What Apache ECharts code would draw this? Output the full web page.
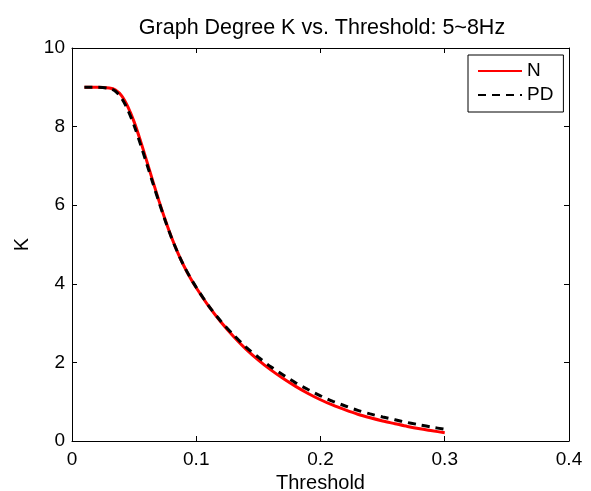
<!DOCTYPE html>
<html>
<head>
<meta charset="utf-8">
<script src="https://cdn.jsdelivr.net/npm/echarts@6/dist/echarts.min.js"></script>
<style>
  html, body { margin: 0; padding: 0; background: #fff; }
  #chart { width: 591px; height: 491px; }
</style>
</head>
<body>
<div id="chart"></div>
<script>
// threshold values (x)
var thresholds = [0.01, 0.02, 0.03, 0.035, 0.04, 0.045, 0.05, 0.055, 0.06, 0.065, 0.07, 0.075, 0.08, 0.085,
  0.09, 0.095, 0.1, 0.11, 0.12, 0.13, 0.14, 0.15, 0.16, 0.17, 0.18, 0.19, 0.2, 0.21, 0.22, 0.23,
  0.24, 0.25, 0.26, 0.27, 0.28, 0.29, 0.3]
var kN = [9, 9, 8.98, 8.93, 8.78, 8.5, 8.12, 7.65, 7.14, 6.62, 6.11, 5.63, 5.19, 4.8,
  4.46, 4.16, 3.9, 3.43, 3.02, 2.66, 2.34, 2.06, 1.81, 1.59, 1.39, 1.21, 1.05, 0.91, 0.79, 0.68,
  0.59, 0.51, 0.44, 0.37, 0.31, 0.26, 0.21]
var kPD = [9, 9, 8.97, 8.9, 8.72, 8.42, 8.03, 7.56, 7.07, 6.57, 6.08, 5.61, 5.18, 4.8,
  4.46, 4.17, 3.91, 3.44, 3.04, 2.7, 2.39, 2.13, 1.89, 1.68, 1.48, 1.31, 1.15, 1.01, 0.89, 0.78,
  0.69, 0.61, 0.54, 0.47, 0.41, 0.35, 0.3]
var xTicks = [0, 0.1, 0.2, 0.3, 0.4]
var yTicks = [0, 2, 4, 6, 8, 10]

function pairs(xs, ys) {
  return xs.map(function (x, i) { return [x, ys[i]] })
}

var font = 'Liberation Sans'
var chart = echarts.init(document.getElementById('chart'))
var tickStyle = { show: true, inside: true, length: 5, lineStyle: { color: '#000', width: 1 } }
var lineStyle = { show: true, onZero: false, lineStyle: { color: '#000', width: 1 } }
var labelStyle = { fontFamily: font, fontSize: 19, color: '#000' }
chart.setOption({
  animation: false,
  title: {
    text: 'Graph Degree K vs. Threshold: 5~8Hz',
    left: 317,
    textAlign: 'center',
    top: 12,
    textStyle: { fontFamily: font, fontSize: 21.5, fontWeight: 'normal', color: '#000' }
  },
  legend: {
    orient: 'vertical',
    left: 468,
    top: 55,
    borderColor: '#000',
    borderWidth: 1,
    borderRadius: 0,
    padding: [6, 10, 7, 9],
    itemGap: 4,
    itemWidth: 44,
    itemHeight: 14,
    backgroundColor: '#fff',
    itemStyle: { color: 'rgba(0,0,0,0)', borderColor: 'rgba(0,0,0,0)', borderWidth: 0 },
    textStyle: { fontFamily: font, fontSize: 19, color: '#000', lineHeight: 20 },
    data: ['N', 'PD']
  },
  grid: { left: 72, right: 22, top: 48, bottom: 50, outerBoundsMode: 'none', containLabel: false },
  xAxis: [{
    type: 'value',
    min: xTicks[0],
    max: xTicks[xTicks.length - 1],
    interval: 0.1,
    name: 'Threshold',
    nameLocation: 'middle',
    nameGap: 30,
    nameTextStyle: { fontFamily: font, fontSize: 20, color: '#000' },
    axisLine: lineStyle,
    axisTick: tickStyle,
    splitLine: { show: false },
    axisLabel: Object.assign({ margin: 9 }, labelStyle)
  }, {
    type: 'value',
    position: 'top',
    min: xTicks[0],
    max: xTicks[xTicks.length - 1],
    interval: 0.1,
    axisLine: lineStyle,
    axisTick: tickStyle,
    axisLabel: { show: false },
    splitLine: { show: false }
  }],
  yAxis: [{
    type: 'value',
    min: yTicks[0],
    max: yTicks[yTicks.length - 1],
    interval: 2,
    name: 'K',
    nameLocation: 'middle',
    nameGap: 31,
    nameTextStyle: { fontFamily: font, fontSize: 20, color: '#000' },
    axisLine: lineStyle,
    axisTick: tickStyle,
    splitLine: { show: false },
    axisLabel: Object.assign({ margin: 7 }, labelStyle)
  }, {
    type: 'value',
    position: 'right',
    min: yTicks[0],
    max: yTicks[yTicks.length - 1],
    interval: 2,
    axisLine: lineStyle,
    axisTick: tickStyle,
    axisLabel: { show: false },
    splitLine: { show: false }
  }],
  series: [{
    name: 'N',
    type: 'line',
    smooth: 0.3,
    symbol: 'none',
    lineStyle: { color: '#ff0000', width: 3 },
    itemStyle: { color: '#ff0000' },
    data: pairs(thresholds, kN)
  }, {
    name: 'PD',
    type: 'line',
    smooth: 0.3,
    symbol: 'none',
    lineStyle: { color: '#000', width: 3, type: [8, 6] },
    itemStyle: { color: '#000' },
    data: pairs(thresholds, kPD)
  }]
})
</script>
</body>
</html>
